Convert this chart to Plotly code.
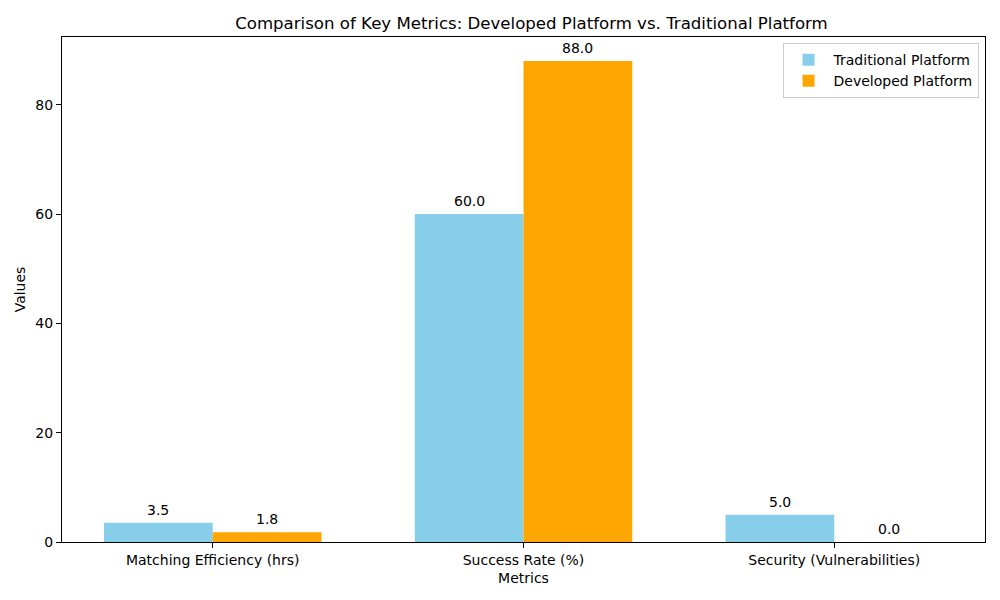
import plotly.graph_objects as go

categories = ["Matching Efficiency (hrs)", "Success Rate (%)", "Security (Vulnerabilities)"]
traditional = [3.5, 60.0, 5.0]
developed = [1.8, 88.0, 0.0]

width = 0.35
xs = list(range(len(categories)))

fig = go.Figure()
fig.add_trace(go.Bar(
    x=[x - width / 2 for x in xs], y=traditional, width=width,
    name="Traditional Platform", marker=dict(color="#87CEEB", line=dict(width=0)),
))
fig.add_trace(go.Bar(
    x=[x + width / 2 for x in xs], y=developed, width=width,
    name="Developed Platform", marker=dict(color="#FFA500", line=dict(width=0)),
))

annotations = []
for vals, off in ((traditional, -width / 2), (developed, width / 2)):
    for x, v in zip(xs, vals):
        annotations.append(dict(
            x=x + off, y=v, text=f"{v:.1f}", showarrow=False,
            yanchor="bottom", yshift=3, font=dict(size=14, color="black"),
        ))

fig.update_layout(
    width=1000, height=600,
    margin=dict(l=54, r=23, t=29, b=66),
    paper_bgcolor="white", plot_bgcolor="white",
    font=dict(family="DejaVu Sans", size=14, color="black"),
    title=dict(text="Comparison of Key Metrics: Developed Platform vs. Traditional Platform",
               x=0.5235, xanchor="center", y=0.975, yanchor="middle",
               font=dict(size=16.6, color="black")),
    barmode="overlay",
    showlegend=True,
    legend=dict(x=0.993, y=0.988, xanchor="right", yanchor="top",
                bgcolor="rgba(255,255,255,0.8)", bordercolor="#cccccc", borderwidth=1,
                font=dict(size=14), tracegroupgap=2, itemwidth=40),
    annotations=annotations,
)
fig.update_xaxes(
    range=[-0.485, 2.485], tickvals=xs, ticktext=categories,
    showline=True, linecolor="black", linewidth=1, mirror=True,
    ticks="outside", ticklen=5, tickcolor="black", showgrid=False, zeroline=False,
    title=dict(text="Metrics", standoff=6, font=dict(size=14)),
)
fig.update_yaxes(
    range=[0, 92.4], tickvals=[0, 20, 40, 60, 80],
    showline=True, linecolor="black", linewidth=1, mirror=True,
    ticks="outside", ticklen=5, tickcolor="black", showgrid=False, zeroline=False,
    title=dict(text="Values", standoff=6, font=dict(size=14)),
)

fig.write_html("out.html")
